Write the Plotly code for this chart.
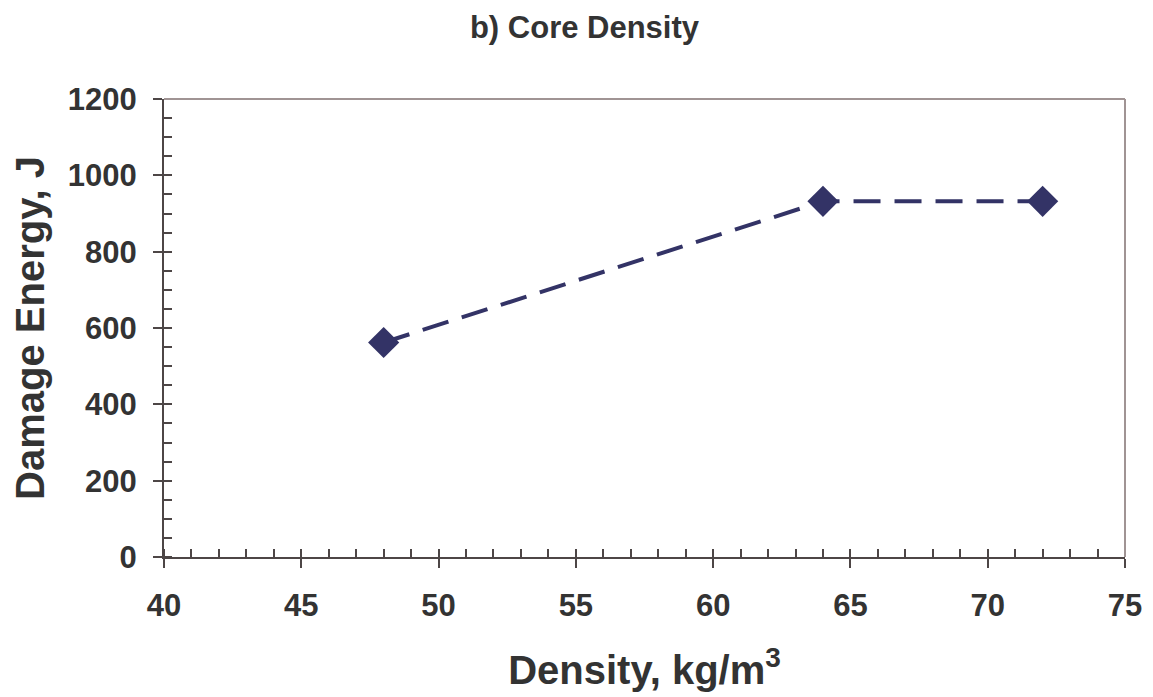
import plotly.graph_objects as go

density = [48, 64, 72]
damage_energy = [562, 932, 932]
x_ticks = [40, 45, 50, 55, 60, 65, 70, 75]
y_ticks = [0, 200, 400, 600, 800, 1000, 1200]

FONT = "Liberation Sans, Arial, sans-serif"
TXT = "#333333"
AX = "#4d4646"

fig = go.Figure()
fig.add_trace(go.Scatter(
    x=density, y=damage_energy, mode="lines+markers",
    line=dict(color="#333366", width=4, dash="27px,14px"),
    marker=dict(symbol="diamond", size=24, color="#333366"),
    showlegend=False, cliponaxis=False,
))

tick_font = dict(family=FONT, size=31, color=TXT)
title_font = dict(family=FONT, size=40, color=TXT)
fig.update_layout(
    width=1153, height=697,
    margin=dict(l=156, r=36, t=91, b=148, autoexpand=False),
    paper_bgcolor="white", plot_bgcolor="white",
    title=dict(text="<b>b) Core Density</b>", x=0.5, xanchor="center",
               y=1 - 19/697, yanchor="middle",
               font=dict(family=FONT, size=31, color=TXT)),
    xaxis=dict(range=[40, 75], tickvals=x_ticks, ticktext=[f"<b>{v}</b>" for v in x_ticks],
               ticks="outside", ticklen=9, tickwidth=2, tickcolor=AX, ticklabelstandoff=11,
               minor=dict(dtick=1, ticks="inside", ticklen=8, tickwidth=1.5, tickcolor=AX),
               showline=True, linecolor=AX, linewidth=2, showgrid=False, zeroline=False,
               tickfont=tick_font,
               title=dict(text="<b>Density, kg/m<sup>3</sup></b>", font=title_font, standoff=34)),
    yaxis=dict(range=[0, 1200], tickvals=y_ticks, ticktext=[f"<b>{v}</b>" for v in y_ticks],
               ticks="outside", ticklen=9, tickwidth=2, tickcolor=AX, ticklabelstandoff=10,
               minor=dict(dtick=50, ticks="inside", ticklen=8, tickwidth=1.5, tickcolor=AX),
               showline=True, linecolor=AX, linewidth=2, showgrid=False, zeroline=False,
               tickfont=tick_font,
               title=dict(text="<b>Damage Energy, J</b>", font=title_font, standoff=12)),
    xaxis2=dict(overlaying="x", matches="x", range=[40, 75], tickvals=x_ticks, showticklabels=False,
                ticks="inside", ticklen=8, tickwidth=2, tickcolor=AX, showgrid=False, zeroline=False, showline=False),
    yaxis2=dict(overlaying="y", matches="y", range=[0, 1200], tickvals=y_ticks, showticklabels=False,
                ticks="inside", ticklen=8, tickwidth=2, tickcolor=AX, showgrid=False, zeroline=False, showline=False),
    shapes=[
        dict(type="line", xref="paper", yref="paper", x0=0, x1=1, y0=1, y1=1, line=dict(color="#a09494", width=2)),
        dict(type="line", xref="paper", yref="paper", x0=1, x1=1, y0=0, y1=1, line=dict(color="#a09494", width=2)),
    ],
)
# invisible trace to activate the overlay axes
fig.add_trace(go.Scatter(x=[density[0]], y=[damage_energy[0]], xaxis="x2", yaxis="y2",
                         mode="markers", marker=dict(opacity=0), showlegend=False, hoverinfo="skip"))

fig.write_html("out.html")
